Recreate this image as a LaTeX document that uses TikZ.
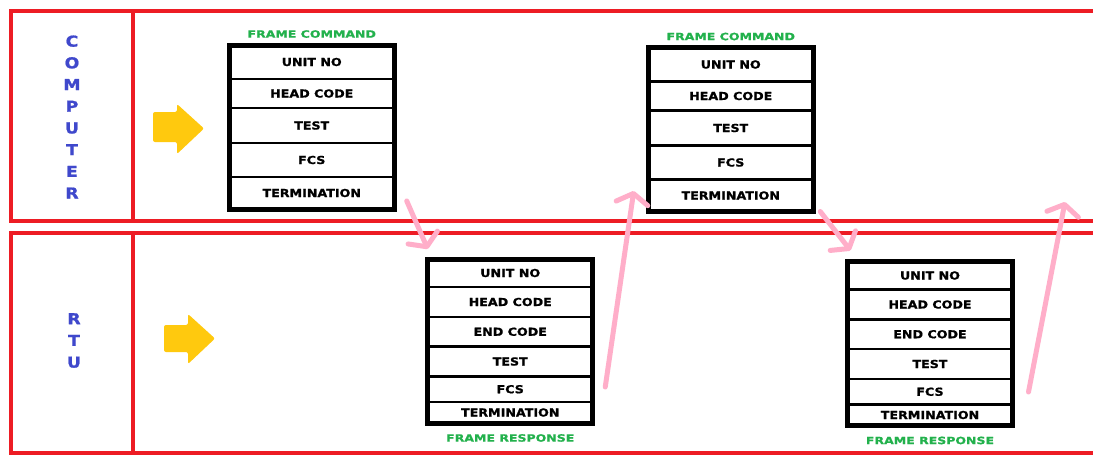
\documentclass[tikz,border=0pt]{standalone}
\usepackage{fontspec}
\usetikzlibrary{positioning,arrows.meta}
\newfontfamily\cellfont{DejaVu Sans}[FakeStretch=1.15,FakeBold=1.2]
\newfontfamily\titlefont{DejaVu Sans}[FakeStretch=1.25,FakeBold=1]
\definecolor{paintred}{HTML}{ED1C24}
\definecolor{paintgold}{HTML}{FFC90E}
\definecolor{paintgreen}{HTML}{22B14C}
\definecolor{paintpink}{HTML}{FFAEC9}
\definecolor{paintblue}{HTML}{3F48CC}
\tikzset{
  lane/.style={draw=paintred, line width=4pt},
  cell/.style={draw, line width=2.5pt, minimum width=165pt, inner sep=0pt, outer sep=0pt,
    font=\cellfont\bfseries\fontsize{11}{13}\selectfont},
  framebox/.style={draw, line width=5pt, minimum width=165pt, minimum height=164pt,
    inner sep=0pt, outer sep=0pt},
  frametitle/.style={text=paintgreen, inner sep=0pt, font=\titlefont\bfseries\fontsize{10}{12}\selectfont},
  side/.style={text=paintblue, align=center, inner sep=0pt, font=\cellfont\bfseries\fontsize{15}{21.7}\selectfont},
  goarrow/.style={fill=paintgold, rounded corners=2pt},
  hop/.style={draw=paintpink, line width=5pt, line cap=round,
    -{Straight Barb[length=10pt,width=32pt,round]}}
}
\begin{document}
\begin{tikzpicture}[x=1pt,y=-1pt]
        \clip (0,0) rectangle (1093,455);
        \fill[white] (0,0) rectangle (1093,455);
        % lanes
        \draw[lane] (11,10.5) rectangle (1110,221);
        \draw[lane] (132.5,10.5) -- (132.5,221);
        \draw[lane] (11,233) rectangle (1110,453);
        \draw[lane] (132.5,233) -- (132.5,453);
        \node[side] (pclabel) at (72,117) {C\\O\\M\\P\\U\\T\\E\\R};
        \node[side] (rtulabel) at (74,340.5) {R\\T\\U};
        \fill[goarrow] (153,112)--(177,112)--(177,104)--(204,128.5)--(177,154)--(177,142)--(153,142)--cycle;
        \fill[goarrow] (164,325)--(188,325)--(188,314)--(215,338.5)--(188,364)--(188,352)--(164,352)--cycle;
        % first command
        \node[cell, minimum height=34pt, anchor=north] (cmdAunit) at (311.75,45) {UNIT NO};
        \node[cell, minimum height=29pt, below=0pt of cmdAunit] (cmdAhead) {HEAD CODE};
        \node[cell, minimum height=35pt, below=0pt of cmdAhead] (cmdAtest) {TEST};
        \node[cell, minimum height=34pt, below=0pt of cmdAtest] (cmdAfcs) {FCS};
        \node[cell, minimum height=32pt, below=0pt of cmdAfcs] (cmdAterm) {TERMINATION};
        \node[framebox, anchor=north] (cmdA) at (cmdAunit.north) {};
        \node[frametitle, above=7pt of cmdA] (cmdAtitle) {FRAME COMMAND};
        % second command
        \node[cell, minimum height=34pt, anchor=north] (cmdBunit) at (730.75,47.5) {UNIT NO};
        \node[cell, minimum height=29pt, below=0pt of cmdBunit] (cmdBhead) {HEAD CODE};
        \node[cell, minimum height=35pt, below=0pt of cmdBhead] (cmdBtest) {TEST};
        \node[cell, minimum height=34pt, below=0pt of cmdBtest] (cmdBfcs) {FCS};
        \node[cell, minimum height=32pt, below=0pt of cmdBfcs] (cmdBterm) {TERMINATION};
        \node[framebox, anchor=north] (cmdB) at (cmdBunit.north) {};
        \node[frametitle, above=7pt of cmdB] (cmdBtitle) {FRAME COMMAND};
        % first response
        \node[cell, minimum height=28pt, anchor=north] (respAunit) at (510.25,259) {UNIT NO};
        \node[cell, minimum height=30pt, below=0pt of respAunit] (respAhead) {HEAD CODE};
        \node[cell, minimum height=29.5pt, below=0pt of respAhead] (respAend) {END CODE};
        \node[cell, minimum height=30pt, below=0pt of respAend] (respAtest) {TEST};
        \node[cell, minimum height=25.5pt, below=0pt of respAtest] (respAfcs) {FCS};
        \node[cell, minimum height=21pt, below=0pt of respAfcs] (respAterm) {TERMINATION};
        \node[framebox, anchor=north] (respA) at (respAunit.north) {};
        \node[frametitle, below=11pt of respA] (respAtitle) {FRAME RESPONSE};
        % second response
        \node[cell, minimum height=28pt, anchor=north] (respBunit) at (930,261.5) {UNIT NO};
        \node[cell, minimum height=30pt, below=0pt of respBunit] (respBhead) {HEAD CODE};
        \node[cell, minimum height=29.5pt, below=0pt of respBhead] (respBend) {END CODE};
        \node[cell, minimum height=30pt, below=0pt of respBend] (respBtest) {TEST};
        \node[cell, minimum height=25.5pt, below=0pt of respBtest] (respBfcs) {FCS};
        \node[cell, minimum height=21pt, below=0pt of respBfcs] (respBterm) {TERMINATION};
        \node[framebox, anchor=north] (respB) at (respBunit.north) {};
        \node[frametitle, below=11pt of respB] (respBtitle) {FRAME RESPONSE};
        % hops
        \coordinate (nextcmd) at (1065,202);
        \draw[hop] ([xshift=12.5pt,yshift=8pt]cmdA.south east) -- ([yshift=10pt]respA.north west);
        \draw[hop] ([xshift=12.5pt,yshift=-46pt]respA.east) -- ([xshift=-14.5pt,yshift=20.5pt]cmdB.south west);
        \draw[hop] ([xshift=7pt]cmdB.south east) -- ([xshift=3pt,yshift=11pt]respB.north west);
        \draw[hop] ([xshift=16pt,yshift=-48.5pt]respB.east) -- (nextcmd);
\end{tikzpicture}
\end{document}
